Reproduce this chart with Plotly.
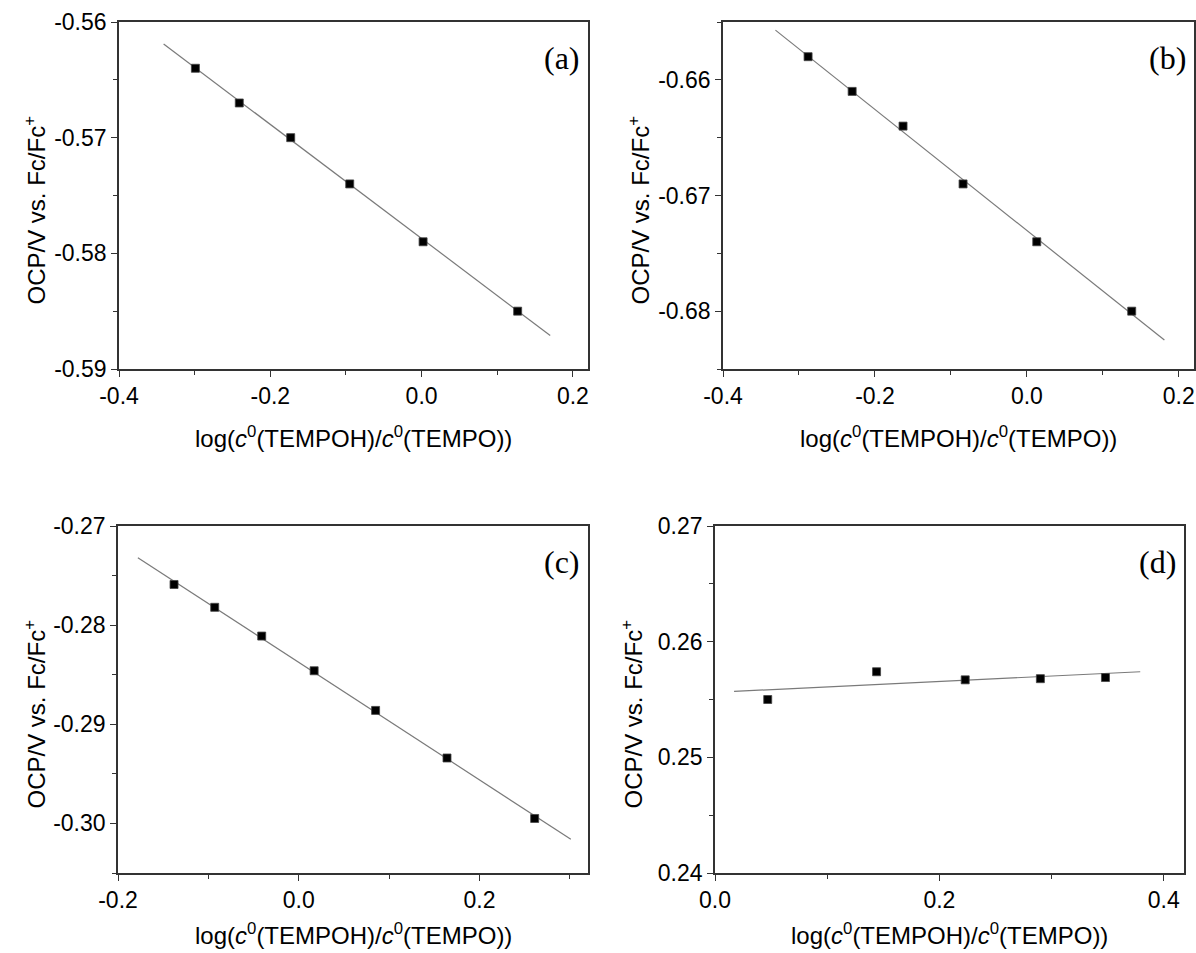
import plotly.graph_objects as go

# ---------------- data ----------------
a_x = [-0.299, -0.241, -0.173, -0.095, 0.002, 0.127]
a_y = [-0.564, -0.567, -0.570, -0.574, -0.579, -0.585]
a_fit_x = [-0.341, 0.170]
a_fit_y = [-0.5619, -0.5871]

b_x = [-0.288, -0.230, -0.163, -0.084, 0.013, 0.138]
b_y = [-0.658, -0.661, -0.664, -0.669, -0.674, -0.680]
b_fit_x = [-0.331, 0.181]
b_fit_y = [-0.6557, -0.6825]

c_x = [-0.138, -0.093, -0.041, 0.017, 0.085, 0.164, 0.261]
c_y = [-0.2759, -0.2782, -0.2811, -0.2846, -0.2886, -0.2934, -0.2995]
c_fit_x = [-0.178, 0.301]
c_fit_y = [-0.2732, -0.3016]

d_x = [0.047, 0.144, 0.223, 0.290, 0.348]
d_y = [0.2550, 0.2574, 0.2567, 0.2568, 0.2569]
d_fit_x = [0.017, 0.379]
d_fit_y = [0.2557, 0.2574]

# tick values / labels
ab_xticks = [-0.4, -0.2, 0.0, 0.2]
ab_xticklabels = ["-0.4", "-0.2", "0.0", "0.2"]
ab_xminor = [-0.3, -0.1, 0.1]

a_yticks = [-0.59, -0.58, -0.57, -0.56]
a_yticklabels = ["-0.59", "-0.58", "-0.57", "-0.56"]
a_yminor = [-0.585, -0.575, -0.565]

b_yticks = [-0.68, -0.67, -0.66]
b_yticklabels = ["-0.68", "-0.67", "-0.66"]
b_yminor = [-0.685, -0.675, -0.665, -0.655]

c_xticks = [-0.2, 0.0, 0.2]
c_xticklabels = ["-0.2", "0.0", "0.2"]
c_xminor = [-0.1, 0.1, 0.3]
c_yticks = [-0.30, -0.29, -0.28, -0.27]
c_yticklabels = ["-0.30", "-0.29", "-0.28", "-0.27"]
c_yminor = [-0.305, -0.295, -0.285, -0.275]

d_xticks = [0.0, 0.2, 0.4]
d_xticklabels = ["0.0", "0.2", "0.4"]
d_xminor = [0.1, 0.3]
d_yticks = [0.24, 0.25, 0.26, 0.27]
d_yticklabels = ["0.24", "0.25", "0.26", "0.27"]
d_yminor = [0.245, 0.255, 0.265]

panel_labels = ["(a)", "(b)", "(c)", "(d)"]
x_title = "log(<i>c</i><sup>0</sup>(TEMPOH)/<i>c</i><sup>0</sup>(TEMPO))"
y_title = "OCP/V vs. Fc/Fc<sup>+</sup>"

# ---------------- layout geometry ----------------
W, H = 1196, 953
FONT = "Liberation Sans, Arial, sans-serif"
AXCOL = "#333333"

panels = [
    dict(xd=(119, 588), yd=(22, 369), xr=[-0.4, 0.22], yr=[-0.59, -0.56],
         xt=ab_xticks, xtl=ab_xticklabels, xm=ab_xminor,
         yt=a_yticks, ytl=a_yticklabels, ym=a_yminor,
         px=a_x, py=a_y, fx=a_fit_x, fy=a_fit_y, tgap=68),
    dict(xd=(723, 1194), yd=(22, 369), xr=[-0.4, 0.22], yr=[-0.685, -0.655],
         xt=ab_xticks, xtl=ab_xticklabels, xm=ab_xminor,
         yt=b_yticks, ytl=b_yticklabels, ym=b_yminor,
         px=b_x, py=b_y, fx=b_fit_x, fy=b_fit_y, tgap=68),
    dict(xd=(118, 588), yd=(526, 873), xr=[-0.2, 0.32], yr=[-0.305, -0.27],
         xt=c_xticks, xtl=c_xticklabels, xm=c_xminor,
         yt=c_yticks, ytl=c_yticklabels, ym=c_yminor,
         px=c_x, py=c_y, fx=c_fit_x, fy=c_fit_y, tgap=61),
    dict(xd=(715, 1184), yd=(526, 873), xr=[0.0, 0.418], yr=[0.24, 0.27],
         xt=d_xticks, xtl=d_xticklabels, xm=d_xminor,
         yt=d_yticks, ytl=d_yticklabels, ym=d_yminor,
         px=d_x, py=d_y, fx=d_fit_x, fy=d_fit_y, tgap=61),
]

fig = go.Figure()
layout = dict(
    width=W, height=H,
    margin=dict(l=0, r=0, t=0, b=0, autoexpand=False),
    paper_bgcolor="white", plot_bgcolor="white",
    showlegend=False,
    font=dict(family=FONT, color="black", size=23),
)
annotations = []

for i, p in enumerate(panels):
    n = "" if i == 0 else str(i + 1)
    xa, ya = "x" + n, "y" + n
    fig.add_trace(go.Scatter(x=p["fx"], y=p["fy"], mode="lines",
                             line=dict(color="#7a7a7a", width=1.2),
                             xaxis=xa, yaxis=ya, hoverinfo="skip"))
    fig.add_trace(go.Scatter(x=p["px"], y=p["py"], mode="markers",
                             marker=dict(symbol="square", size=8, color="black",
                                         line=dict(color="#444444", width=0.8)),
                             xaxis=xa, yaxis=ya))
    xdom = [p["xd"][0] / W, p["xd"][1] / W]
    ydom = [1 - p["yd"][1] / H, 1 - p["yd"][0] / H]
    common = dict(showline=True, linecolor=AXCOL, linewidth=1.6, mirror=True,
                  showgrid=False, zeroline=False, ticks="outside", ticklen=6,
                  tickwidth=1.2, tickcolor=AXCOL, automargin=False,
                  tickfont=dict(family=FONT, size=23, color="black"),
                  tickmode="array")
    layout["xaxis" + n] = dict(common, domain=xdom, range=p["xr"], anchor=ya,
                               tickvals=p["xt"], ticktext=p["xtl"],
                               minor=dict(tickvals=p["xm"], ticks="outside",
                                          ticklen=4, tickcolor=AXCOL, tickwidth=1.2))
    layout["yaxis" + n] = dict(common, domain=ydom, range=p["yr"], anchor=xa,
                               tickvals=p["yt"], ticktext=p["ytl"],
                               minor=dict(tickvals=p["ym"], ticks="outside",
                                          ticklen=4, tickcolor=AXCOL, tickwidth=1.2))
    cx = (p["xd"][0] + p["xd"][1]) / 2
    cy = (p["yd"][0] + p["yd"][1]) / 2
    # x-axis title
    annotations.append(dict(text=x_title, xref="paper", yref="paper",
                            x=cx / W, y=1 - (p["yd"][1] + p["tgap"]) / H,
                            xanchor="center", yanchor="middle", showarrow=False,
                            font=dict(family=FONT, size=24, color="black")))
    # y-axis title
    annotations.append(dict(text=y_title, xref="paper", yref="paper",
                            x=(p["xd"][0] - 84) / W, y=1 - (cy + 15) / H, textangle=-90,
                            xanchor="center", yanchor="middle", showarrow=False,
                            font=dict(family=FONT, size=24, color="black")))
    # panel label
    annotations.append(dict(text=panel_labels[i], xref="paper", yref="paper",
                            x=(p["xd"][1] - 6) / W, y=1 - (p["yd"][0] + 36) / H,
                            xanchor="right", yanchor="middle", showarrow=False,
                            font=dict(family="Liberation Serif, Times New Roman, serif",
                                      size=32, color="black")))

layout["annotations"] = annotations
fig.update_layout(**layout)
fig.write_html("out.html")
